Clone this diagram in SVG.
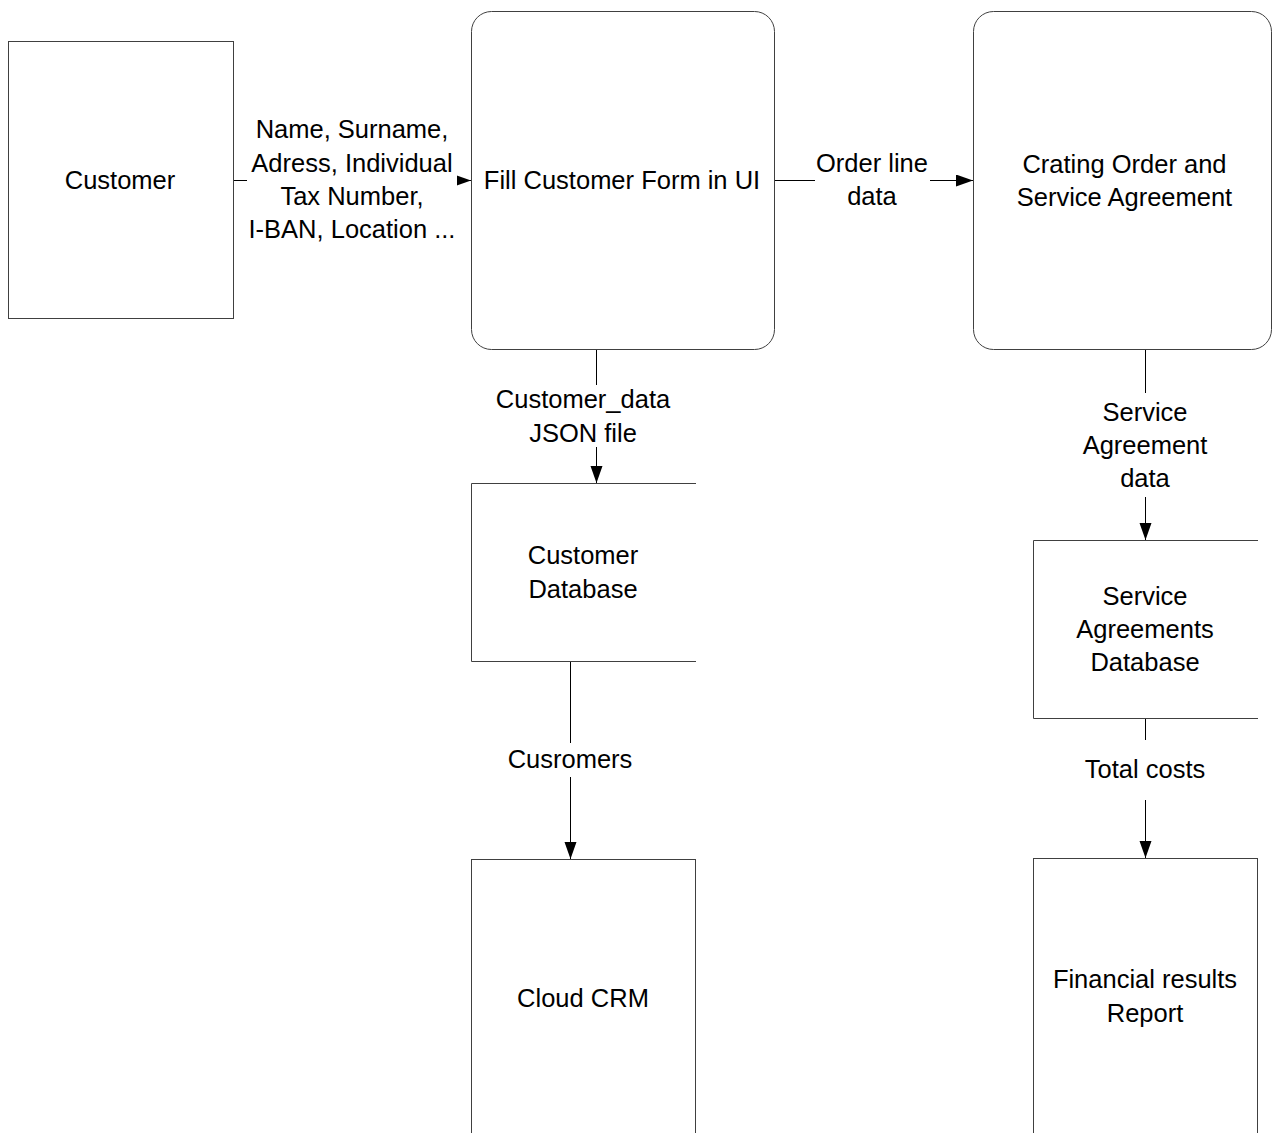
<svg xmlns="http://www.w3.org/2000/svg" width="1272" height="1133" viewBox="0 0 1272 1133">
  <style>
    .box { fill: #ffffff; stroke: #404040; stroke-width: 1; }
    .store { fill: none; stroke: #404040; stroke-width: 1; }
    .flow { fill: none; stroke: #000000; stroke-width: 1; marker-end: url(#arrow); }
    .label-bg { fill: #ffffff; stroke: none; }
    text { font-family: "Liberation Sans", Arial, sans-serif; font-size: 25.5px; fill: #000000; text-anchor: middle; }
  </style>
  <defs>
    <marker id="arrow" markerUnits="userSpaceOnUse" markerWidth="18" markerHeight="13" refX="17" refY="6" orient="auto">
      <path d="M0,0 L17,6 L0,12 Z" fill="#000000"/>
    </marker>
  </defs>
  <rect width="1272" height="1133" fill="#ffffff"/>

  <!-- connectors, broken where their labels sit -->
  <g id="connectors">
    <path class="flow" d="M233.5,180.5 H247 M457,180.5 H471"/>
    <rect class="label-bg" x="247" y="112" width="210" height="136"/>
    <text x="352" y="138">Name, Surname,</text>
    <text x="352" y="171.5">Adress, Individual</text>
    <text x="352" y="204.5">Tax Number,</text>
    <text x="352" y="238">I-BAN, Location ...</text>

    <path class="flow" d="M774,180.5 H815 M930,180.5 H973"/>
    <text x="872" y="172">Order line</text>
    <text x="872" y="205">data</text>

    <path class="flow" d="M596.5,349 V385 M596.5,447 V483"/>
    <text x="583" y="408">Customer_data</text>
    <text x="583" y="441.5">JSON file</text>

    <path class="flow" d="M570.5,661 V743 M570.5,777 V859"/>
    <text x="570" y="768">Cusromers</text>

    <path class="flow" d="M1145.5,349 V393 M1145.5,497 V540"/>
    <text x="1145" y="420.5">Service</text>
    <text x="1145" y="453.5">Agreement</text>
    <text x="1145" y="486.5">data</text>

    <path class="flow" d="M1145.5,718 V740 M1145.5,800 V858"/>
    <text x="1145" y="778">Total costs</text>
  </g>

  <!-- external entity -->
  <g id="customer">
    <rect class="box" x="8.5" y="41.5" width="225" height="277"/>
    <text x="120" y="188.5">Customer</text>
  </g>

  <!-- processes -->
  <g id="fill-customer-form">
    <rect class="box" x="471.5" y="11.5" width="303" height="338" rx="20" ry="20"/>
    <text x="622" y="188.5">Fill Customer Form in UI</text>
  </g>

  <g id="creating-order">
    <rect class="box" x="973.5" y="11.5" width="298" height="338" rx="20" ry="20"/>
    <text x="1124.5" y="172.5">Crating Order and</text>
    <text x="1124.5" y="205.5">Service Agreement</text>
  </g>

  <!-- data stores (open on the right) -->
  <g id="customer-database">
    <path class="store" d="M696,483.5 H471.5 V661.5 H696"/>
    <text x="583" y="564">Customer</text>
    <text x="583" y="597.5">Database</text>
  </g>

  <g id="service-agreements-database">
    <path class="store" d="M1258,540.5 H1033.5 V718.5 H1258"/>
    <text x="1145" y="605">Service</text>
    <text x="1145" y="638">Agreements</text>
    <text x="1145" y="671">Database</text>
  </g>

  <!-- outputs -->
  <g id="cloud-crm">
    <rect class="box" x="471.5" y="859.5" width="224" height="290"/>
    <text x="583" y="1006.5">Cloud CRM</text>
  </g>

  <g id="financial-report">
    <rect class="box" x="1033.5" y="858.5" width="224" height="290"/>
    <text x="1145" y="988">Financial results</text>
    <text x="1145" y="1021.5">Report</text>
  </g>
</svg>
